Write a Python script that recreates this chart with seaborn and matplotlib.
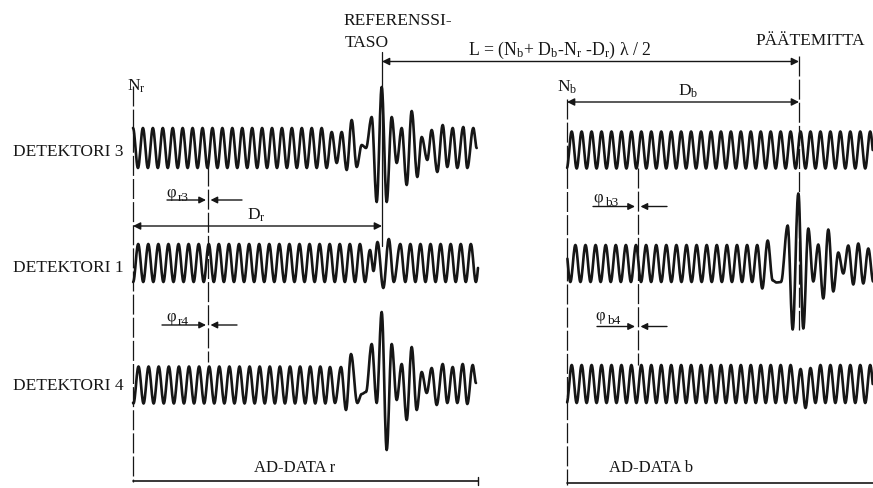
import numpy as np
import pandas as pd
import matplotlib
matplotlib.use("Agg")
import matplotlib.pyplot as plt
import seaborn as sns

# ---------------- data (schematic drawn in pixel space of the 873x488 page) ----------------
# trace names
traces = ["D3 r", "D1 r", "D4 r", "D3 b", "D1 b", "D4 b"]
# horizontal extent of each recorded signal
trace_start = [133, 133, 133, 567, 567, 567]
trace_end = [477, 478, 476, 873, 873, 873]
# baseline (vertical position) and carrier amplitude
trace_base = [148, 263, 385, 150, 263.5, 384]
trace_amp = [20, 19, 18.5, 18.5, 18.5, 19]
# carrier period and position of a carrier peak
trace_period = [9.93, 10.08, 10.1, 9.95, 10.1, 9.95]
trace_peak0 = [133, 138.2, 138.5, 571.7, 565.3, 571.7]

# white-light burst extrema (x, value above baseline)
d3r_burst_x = [331.7, 336.7, 341.7, 346.7, 351.7, 356.7, 361.7, 366.0, 371.7, 376.7, 381.7,
               386.7, 391.7, 396.7, 401.7, 406.7, 411.7, 417.3, 421.7, 427.3, 431.7, 437.3,
               442.7, 447.3, 452.7, 457.3, 463.3, 467.3, 473.3, 476.7]
d3r_burst_v = [16, -15, 16, -22, 28, -19, 3, 0, 31, -54, 61,
               -54, 31, -15, 20, -37, 37, -29, 11, -12, 18, -24,
               23, -19, 20, -20, 21, -20, 20, 0]
d1r_burst_x = [370.0, 373.5, 377.5, 383.3, 388.8, 393.8]
d1r_burst_v = [13, -8, 21, -25, 24, -19]
d4r_burst_x = [330.0, 335.0, 341.0, 346.0, 351.0, 357.3, 361.7, 366.0, 371.7, 376.7, 381.7,
               386.7, 391.7, 396.7, 401.7, 406.7, 411.7, 416.7, 421.7, 426.7, 431.7, 436.7,
               442.7, 447.3, 452.7, 457.3, 462.7, 467.3, 472.7, 476.0]
d4r_burst_v = [18, -18, 18, -25, 31, -18, -9, -7, 41, -18, 73,
               -65, 41, -15, 21, -35, 38, -25, 13, -8, 17, -20,
               21, -18, 18, -18, 21, -19, 20, 2]
d3b_burst_x = []
d3b_burst_v = []
d1b_burst_x = [762.3, 767.7, 772.7, 776.5, 781.0, 787.7, 792.7, 798.3, 803.3, 808.3, 813.3,
               818.3, 823.3, 828.3, 833.3, 838.3, 843.3, 848.3, 853.3, 858.3, 863.3, 868.3]
d1b_burst_v = [-25, 23, -17, -19, -18.5, 38, -66, 70, -65, 35, -18,
               19, -35, 34, -28, 11, -10, 18, -21, 20, -20, 15]
d4b_burst_x = [800.6, 805.5, 810.5]
d4b_burst_v = [15, -24, 16]

burst_x = [d3r_burst_x, d1r_burst_x, d4r_burst_x, d3b_burst_x, d1b_burst_x, d4b_burst_x]
burst_v = [d3r_burst_v, d1r_burst_v, d4r_burst_v, d3b_burst_v, d1b_burst_v, d4b_burst_v]

# annotation geometry
row_labels = ["DETEKTORI 3", "DETEKTORI 1", "DETEKTORI 4"]
row_label_y = [152, 268, 386]
ref_x, end_x = 382, 799          # REFERENSSI-TASO and PÄÄTEMITTA
nr_x, nb_x = 133, 567            # N_r and N_b
phir_x, phib_x = 208, 637.5      # phase reference lines

INK = "#161616"

# ---------------- build waveform table ----------------
rows = []
for i, name in enumerate(traces):
    s, e = trace_start[i], trace_end[i]
    base, amp, P, p0 = trace_base[i], trace_amp[i], trace_period[i], trace_peak0[i]
    kmin = int(np.floor((s - 6 - p0) / (P / 2)))
    kmax = int(np.ceil((e + 6 - p0) / (P / 2)))
    ex = [(p0 + k * P / 2, amp if k % 2 == 0 else -amp) for k in range(kmin, kmax + 1)]
    bx, bv = burst_x[i], burst_v[i]
    if bx:
        lo, hi = bx[0] - P / 4, bx[-1] + P / 4
        ex = [p for p in ex if p[0] < lo or p[0] > hi] + list(zip(bx, bv))
        ex.sort()
    xs, ys = [], []
    for (x1, v1), (x2, v2) in zip(ex[:-1], ex[1:]):
        t = np.linspace(0, 1, 12, endpoint=False)
        xs.append(x1 + t * (x2 - x1))
        ys.append(v1 + (v2 - v1) * (1 - np.cos(np.pi * t)) / 2)
    xs.append([ex[-1][0]]); ys.append([ex[-1][1]])
    xs = np.concatenate(xs); ys = np.concatenate(ys)
    m = (xs >= s) & (xs <= e)
    for x, v in zip(xs[m], ys[m]):
        rows.append({"trace": name, "x": x, "y": base - v})
wave = pd.DataFrame(rows)

# ---------------- figure ----------------
sns.set_theme(style="white")
plt.rcParams["font.family"] = ["Liberation Serif", "DejaVu Serif"]
plt.rcParams["mathtext.fontset"] = "custom"
plt.rcParams["mathtext.rm"] = "Liberation Serif"
plt.rcParams["mathtext.it"] = "Liberation Serif:italic"
plt.rcParams["mathtext.bf"] = "Liberation Serif:bold"

fig = plt.figure(figsize=(8.73, 4.88), dpi=100)
ax = fig.add_axes([0, 0, 1, 1])
ax.set_xlim(0, 873)
ax.set_ylim(488, 0)
ax.axis("off")

sns.lineplot(data=wave, x="x", y="y", units="trace", estimator=None, sort=False,
             color=INK, lw=1.9, ax=ax, legend=False)

vlw = 0.9
dash = (0, (16, 2.5))
# vertical reference lines
ax.plot([nr_x, nr_x], [86, 482], color=INK, lw=vlw, ls=dash)
ax.plot([nb_x, nb_x], [99, 485], color=INK, lw=vlw, ls=dash)
ax.plot([ref_x, ref_x], [52, 246], color=INK, lw=vlw)
ax.plot([end_x, end_x], [56, 330], color=INK, lw=vlw, ls=dash)
ax.plot([phir_x, phir_x], [166, 362], color=INK, lw=vlw, ls=dash)
ax.plot([phib_x, phib_x], [168, 365], color=INK, lw=vlw, ls=dash)

def dim(x1, x2, y):
    ax.annotate("", xy=(x2, y), xytext=(x1, y),
                arrowprops=dict(arrowstyle="<|-|>", color=INK, lw=1.0,
                                mutation_scale=11, shrinkA=0, shrinkB=0))

def pointer(x_tail, x_tip, y):
    ax.annotate("", xy=(x_tip, y), xytext=(x_tail, y),
                arrowprops=dict(arrowstyle="-|>", color=INK, lw=1.0,
                                mutation_scale=10, shrinkA=0, shrinkB=0))

dim(ref_x, end_x, 61.5)
dim(nb_x, end_x, 102)
dim(nr_x, ref_x, 226)

# phase markers
pointer(167, 206, 200); pointer(242, 210.5, 200)
pointer(162, 206, 325); pointer(237, 210.5, 325)
pointer(593, 635, 206.5); pointer(667, 640.5, 206.5)
pointer(597, 635, 326.5); pointer(667, 640.5, 326.5)

# AD-DATA baselines
ax.plot([nr_x, 478], [481, 481], color=INK, lw=1.2)
ax.plot([478, 478], [477, 485], color=INK, lw=1.0)
ax.plot([nb_x, 873], [483, 483], color=INK, lw=1.2)

# ---------------- text ----------------
fs = 12.5
for lab, y in zip(row_labels, row_label_y):
    ax.text(13, y, lab, fontsize=fs, color=INK, ha="left", va="center")

ax.text(343, 21, "REFERENSSI-", fontsize=fs, color=INK, ha="left", va="center")
ax.text(345, 43, "TASO", fontsize=fs, color=INK, ha="left", va="center")
ax.text(755, 41, "PÄÄTEMITTA", fontsize=fs, color=INK, ha="left", va="center")
ax.text(468, 50, r"L = (N$_\mathrm{b}$+ D$_\mathrm{b}$-N$_\mathrm{r}$ -D$_\mathrm{r}$) λ / 2",
        fontsize=12.8, color=INK, ha="left", va="center")

ax.text(127, 86, r"N$_\mathrm{r}$", fontsize=12.5, color=INK, ha="left", va="center")
ax.text(557, 87, r"N$_\mathrm{b}$", fontsize=12.5, color=INK, ha="left", va="center")
ax.text(678, 91, r"D$_\mathrm{b}$", fontsize=12.5, color=INK, ha="left", va="center")
ax.text(247, 215, r"D$_\mathrm{r}$", fontsize=12.5, color=INK, ha="left", va="center")

def phi(x, y, sub):
    ax.text(x, y, "φ", fontsize=12, color=INK, ha="left", va="center")
    ax.text(x + 12, y + 5, sub, fontsize=9.5, color=INK, ha="left", va="center")

phi(166, 193, "r3")
phi(166, 317, "r4")
phi(593, 198, "b3")
phi(595, 316, "b4")

ax.text(295, 468, "AD-DATA r", fontsize=12, color=INK, ha="center", va="center")
ax.text(651, 468, "AD-DATA b", fontsize=12, color=INK, ha="center", va="center")

fig.savefig("out.png", dpi=100, facecolor="white")
